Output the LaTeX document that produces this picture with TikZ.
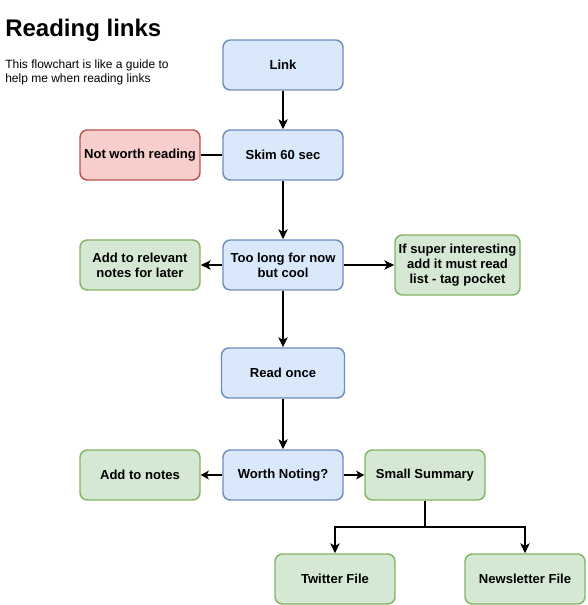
\documentclass[tikz,border=0pt]{standalone}
\usepackage{fontspec}
\setmainfont{Liberation Sans}
\usetikzlibrary{arrows.meta,calc}
\definecolor{bfill}{HTML}{DAE8FC}\definecolor{bline}{HTML}{6C8EBF}
\definecolor{gfill}{HTML}{D5E8D4}\definecolor{gline}{HTML}{82B366}
\definecolor{rfill}{HTML}{F8CECC}\definecolor{rline}{HTML}{B85450}
\tikzset{
  box/.style={rounded corners=5.5pt, line width=1.1pt, align=center, font=\bfseries\fontsize{9.8}{11}\selectfont, inner sep=1pt},
  bluebox/.style={box, fill=bfill, draw=bline},
  greenbox/.style={box, fill=gfill, draw=gline},
  redbox/.style={box, fill=rfill, draw=rline},
  conn/.style={line width=1.1pt, -{Stealth[length=7.5pt,width=7pt,inset=2pt]}},
  thick conn/.style={line width=2.2pt, -{Stealth[length=6pt,width=6.5pt,inset=1.5pt]}},
  plain/.style={line width=1.1pt}
}
\begin{document}
\begin{tikzpicture}[x=0.75pt,y=-0.75pt]
\useasboundingbox (0,0) rectangle (587,605);
\node[anchor=west, font=\bfseries\fontsize{18}{21}\selectfont, inner sep=0] (title) at (5,30) {Reading links};
\node[anchor=north west, align=left, font=\fontsize{9}{9.8}\selectfont, inner sep=0] (desc) at (5,60) {This flowchart is like a guide to\\help me when reading links};
\newcommand{\bx}[6]{\node[#1, minimum width=#4*0.75pt, minimum height=#5*0.75pt] (#2) at (#3) {#6};}
\bx{bluebox}{link}{283,65}{120}{50}{Link}
\bx{bluebox}{skim}{283,155}{120}{50}{Skim 60 sec}
\bx{redbox}{notworth}{140,155}{120}{50}{Not worth reading}
\bx{bluebox}{toolong}{283,265}{120}{50}{Too long for now\\but cool}
\bx{greenbox}{relevant}{140,265}{120}{50}{Add to relevant\\notes for later}
\bx{greenbox}{super}{457.5,265}{125}{60}{If super interesting\\add it must read\\list - tag pocket}
\bx{bluebox}{readonce}{283,373}{123}{50}{Read once}
\bx{bluebox}{worth}{283,475}{120}{50}{Worth Noting?}
\bx{greenbox}{addnotes}{140,475}{120}{50}{Add to notes}
\bx{greenbox}{summary}{425,475}{120}{50}{Small Summary}
\bx{greenbox}{twitter}{335,579}{120}{50}{Twitter File}
\bx{greenbox}{news}{525,579}{120}{50}{Newsletter File}
\draw[conn] (link) -- (skim);
\draw[plain] (skim) -- (notworth);
\draw[conn] (skim) -- (toolong);
\draw[conn] (toolong) -- (relevant);
\draw[conn] (toolong) -- (super);
\draw[conn] (toolong) -- (readonce);
\draw[conn] (readonce) -- (worth);
\draw[thick conn] (worth) -- (addnotes);
\draw[thick conn] (worth) -- (summary);
\coordinate (split) at (425,527);
\draw[conn] (summary.south) |- (split) -| (twitter.north);
\draw[conn] (summary.south) |- (split) -| (news.north);
\end{tikzpicture}
\end{document}
